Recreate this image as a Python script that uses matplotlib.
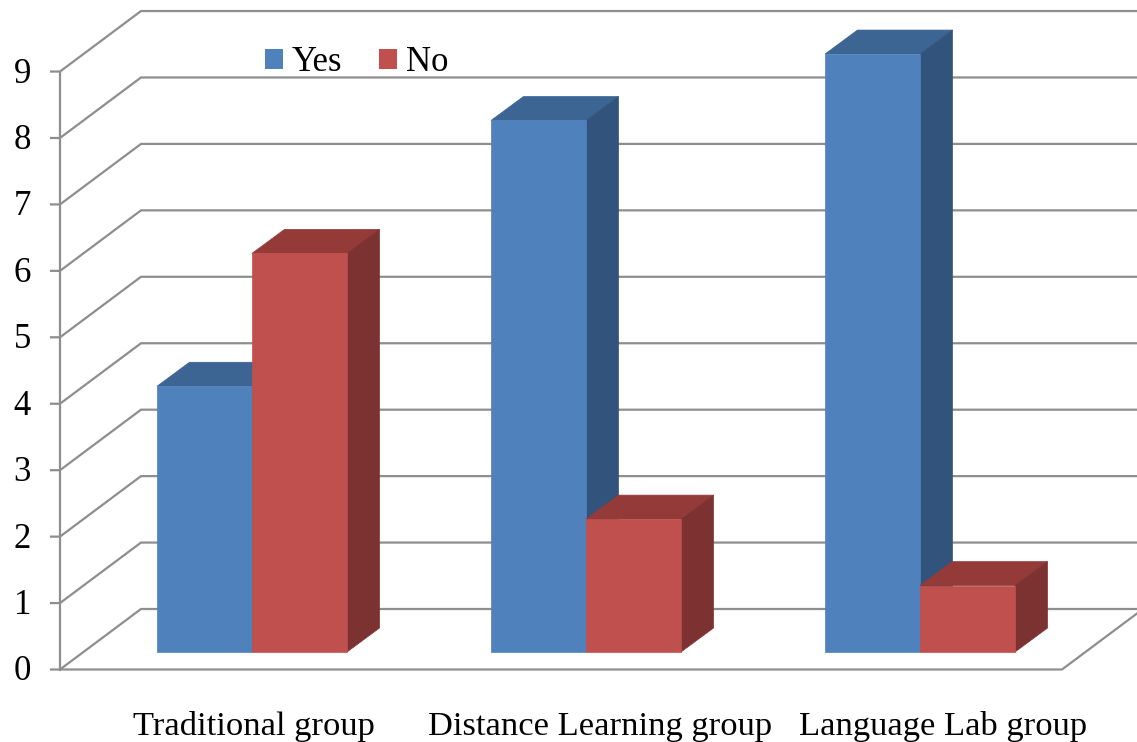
import matplotlib
matplotlib.use('Agg')
import matplotlib.pyplot as plt
from matplotlib.patches import Polygon, Patch

groups = ['Traditional group', 'Distance Learning group', 'Language Lab group']
yes_vals = [4, 8, 9]
no_vals = [6, 2, 1]
ticks = [0, 1, 2, 3, 4, 5, 6, 7, 8, 9]

# colours: front, top, side
blue = ('#4F81BD', '#3D6594', '#32547C')
red = ('#C0504D', '#943B39', '#7C3230')
grey = '#8E8E8E'

W, H = 1137, 742
x_unit = 334.0   # px per category
y_unit = 66.44   # px per value
x0_px, y0_px = 252.0, 652.0   # first group centre / bar base

bar_w = 95.0 / x_unit
bar_dx, bar_dy = 32.5 / x_unit, 24.0 / y_unit   # bar depth
wall_dx, wall_dy = 81.0 / x_unit, 60.5 / y_unit  # floor depth
floor_v = (652.0 - 669.5) / y_unit
left_x = (60.0 - x0_px) / x_unit
right_x = (1062.0 - x0_px) / x_unit
tick_len = 9.0 / x_unit
label_shift = [1.5 / x_unit, 14.0 / x_unit, 23.0 / x_unit]

plt.rcParams['font.family'] = ['Liberation Serif', 'DejaVu Serif']
fig = plt.figure(figsize=(W / 100, H / 100), dpi=100)
ax = fig.add_axes([0, 0, 1, 1])
ax.set_xlim(-x0_px / x_unit, (W - x0_px) / x_unit)
ax.set_ylim((y0_px - H) / y_unit, y0_px / y_unit)
ax.axis('off')


def gridline(v):
    yy = floor_v + v
    ax.plot([left_x - tick_len, left_x, left_x + wall_dx, right_x + wall_dx],
            [yy, yy, yy + wall_dy, yy + wall_dy],
            color=grey, lw=1.6, solid_joinstyle='miter', zorder=1)


def bar3d(x, v, cols, z):
    # front face, lid and right side of one box
    xr = x + bar_w
    faces = [
        ([(x, v), (x + bar_dx, v + bar_dy), (xr + bar_dx, v + bar_dy), (xr, v)], cols[1]),
        ([(xr, 0), (xr + bar_dx, bar_dy), (xr + bar_dx, v + bar_dy), (xr, v)], cols[2]),
        ([(x, 0), (xr, 0), (xr, v), (x, v)], cols[0]),
    ]
    for pts, c in faces:
        ax.add_patch(Polygon(pts, fc=c, ec=c, lw=0.5, zorder=z))


for t in ticks:
    gridline(t)
    ax.text(left_x - 29.0 / x_unit, floor_v + t - 2.5 / y_unit, str(t), fontsize=25,
            ha='right', va='center', color='black')

# axis and floor edges
ax.plot([left_x, left_x], [floor_v, floor_v + ticks[-1]], color=grey, lw=1.6, zorder=1)
ax.plot([left_x, right_x, right_x + wall_dx], [floor_v, floor_v, floor_v + wall_dy],
        color=grey, lw=1.6, solid_joinstyle='miter', zorder=1)

for i, name in enumerate(groups):
    bar3d(i - bar_w, yes_vals[i], blue, 2 + i)
    bar3d(i, no_vals[i], red, 2.5 + i)
    ax.text(i + label_shift[i], floor_v - 57.0 / y_unit, name, fontsize=24.8,
            ha='center', va='center', color='black')

handles = [Patch(fc=blue[0], label='Yes'), Patch(fc=red[0], label='No')]
ax.legend(handles=handles, loc='upper left', bbox_to_anchor=(265 / W, 1 - 46 / H), ncols=2,
          frameon=False, fontsize=25, borderpad=0, borderaxespad=0,
          handlelength=0.52, handleheight=0.52, handletextpad=0.25, columnspacing=1.07)

fig.savefig('out.png', dpi=100)
